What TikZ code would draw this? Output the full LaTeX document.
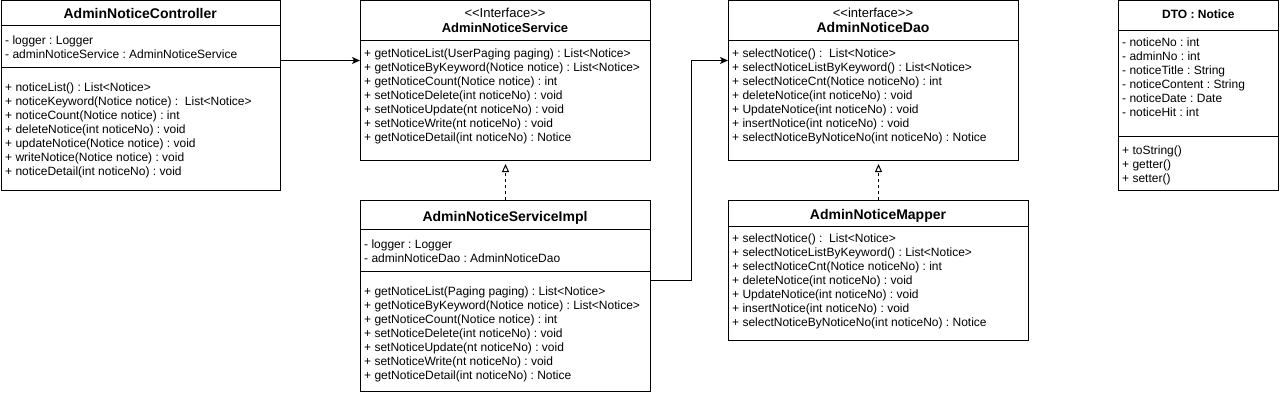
\documentclass[tikz,border=0pt]{standalone}
\usepackage{fontspec}
\setmainfont{Liberation Sans}
\usetikzlibrary{arrows.meta,calc}
\frenchspacing
\newcommand{\lguil}{<\kern0pt<}
\newcommand{\rguil}{>\kern0pt>}
\tikzset{
  cls/.style={draw, line width=1pt, fill=white, inner sep=0pt, anchor=north west},
  mem/.style={anchor=base west, inner sep=0pt, font=\fontsize{12}{14}\selectfont},
  ttl/.style={anchor=base, inner sep=0pt, font=\fontsize{14}{16}\selectfont\bfseries},
  ttlmd/.style={anchor=base, inner sep=0pt, font=\fontsize{13}{15}\selectfont\bfseries},
  stereo/.style={anchor=base, inner sep=0pt, font=\fontsize{13}{15}\selectfont},
  dtottl/.style={anchor=base, inner sep=0pt, font=\fontsize{12}{14}\selectfont\bfseries},
  sepline/.style={line width=1pt},
  assoc/.style={line width=1pt, -{Stealth[length=8pt,width=7pt,inset=2pt]}},
  realize/.style={line width=1pt, dash pattern=on 3pt off 3pt, -{Triangle[open,length=8pt,width=7pt]}},
}
\begin{document}
\begin{tikzpicture}[x=1pt,y=-1pt]
\fill[white] (0,0) rectangle (1281,404);
\useasboundingbox (0,0) rectangle (1281,404);

% ---------- AdminNoticeController
\node[cls, minimum width=279.5pt, minimum height=189.5pt] (ctrl) at (0.5,0.5) {};
\draw[sepline] (ctrl.west |- 0,26) -- (ctrl.east |- 0,26);
\draw[sepline] (ctrl.west |- 0,67) -- (ctrl.east |- 0,67);
\node[ttl] (ctrl-t) at (140.25,18.5) {AdminNoticeController};
\foreach \m [count=\i from 0] in {{- logger : Logger},{- adminNoticeService : AdminNoticeService}}
  \node[mem] (ctrl-a\i) at (5,44.3+14*\i) {\m};
\foreach \m [count=\i from 0] in {{+ noticeList() : List<Notice>},{+ noticeKeyword(Notice notice) :\ \ List<Notice>},{+ noticeCount(Notice notice) : int},{+ deleteNotice(int noticeNo) : void},{+ updateNotice(Notice notice) : void},{+ writeNotice(Notice notice) : void},{+ noticeDetail(int noticeNo) : void}}
  \node[mem] (ctrl-m\i) at (5,91.7+14*\i) {\m};

% ---------- AdminNoticeService
\node[cls, minimum width=290pt, minimum height=159.5pt] (svc) at (360,0.5) {};
\draw[sepline] (svc.west |- 0,41) -- (svc.east |- 0,41);
\node[stereo] (svc-s) at (505,17.5) {\lguil Interface\rguil};
\node[ttlmd] (svc-t) at (505,33) {AdminNoticeService};
\foreach \m [count=\i from 0] in {{+ getNoticeList(UserPaging paging) : List<Notice>},{+ getNoticeByKeyword(Notice notice) : List<Notice>},{+ getNoticeCount(Notice notice) : int},{+ setNoticeDelete(int noticeNo) : void},{+ setNoticeUpdate(nt noticeNo) : void},{+ setNoticeWrite(nt noticeNo) : void},{+ getNoticeDetail(int noticeNo) : Notice}}
  \node[mem] (svc-m\i) at (364,57+14*\i) {\m};

% ---------- AdminNoticeServiceImpl
\node[cls, minimum width=290pt, minimum height=191pt] (impl) at (360,200) {};
\draw[sepline] (impl.west |- 0,229) -- (impl.east |- 0,229);
\draw[sepline] (impl.west |- 0,271) -- (impl.east |- 0,271);
\node[ttl] (impl-t) at (505,221.7) {AdminNoticeServiceImpl};
\foreach \m [count=\i from 0] in {{- logger : Logger},{- adminNoticeDao : AdminNoticeDao}}
  \node[mem] (impl-a\i) at (364,248.3+14*\i) {\m};
\foreach \m [count=\i from 0] in {{+ getNoticeList(Paging paging) : List<Notice>},{+ getNoticeByKeyword(Notice notice) : List<Notice>},{+ getNoticeCount(Notice notice) : int},{+ setNoticeDelete(int noticeNo) : void},{+ setNoticeUpdate(nt noticeNo) : void},{+ setNoticeWrite(nt noticeNo) : void},{+ getNoticeDetail(int noticeNo) : Notice}}
  \node[mem] (impl-m\i) at (364,295.7+14*\i) {\m};

% ---------- AdminNoticeDao
\node[cls, minimum width=290pt, minimum height=159.5pt] (dao) at (728,0.5) {};
\draw[sepline] (dao.west |- 0,41) -- (dao.east |- 0,41);
\node[stereo] (dao-s) at (873,17.5) {\lguil interface\rguil};
\node[ttl] (dao-t) at (873,33) {AdminNoticeDao};
\foreach \m [count=\i from 0] in {{+ selectNotice() :\ \ List<Notice>},{+ selectNoticeListByKeyword() : List<Notice>},{+ selectNoticeCnt(Notice noticeNo) : int},{+ deleteNotice(int noticeNo) : void},{+ UpdateNotice(int noticeNo) : void},{+ insertNotice(int noticeNo) : void},{+ selectNoticeByNoticeNo(int noticeNo) : Notice}}
  \node[mem] (dao-m\i) at (732,57+14*\i) {\m};

% ---------- AdminNoticeMapper
\node[cls, minimum width=300pt, minimum height=140pt] (mapper) at (728,200) {};
\draw[sepline] (mapper.west |- 0,226) -- (mapper.east |- 0,226);
\node[ttl] (mapper-t) at (878,219) {AdminNoticeMapper};
\foreach \m [count=\i from 0] in {{+ selectNotice() :\ \ List<Notice>},{+ selectNoticeListByKeyword() : List<Notice>},{+ selectNoticeCnt(Notice noticeNo) : int},{+ deleteNotice(int noticeNo) : void},{+ UpdateNotice(int noticeNo) : void},{+ insertNotice(int noticeNo) : void},{+ selectNoticeByNoticeNo(int noticeNo) : Notice}}
  \node[mem] (mapper-m\i) at (732,242.5+14*\i) {\m};

% ---------- DTO : Notice
\node[cls, minimum width=160pt, minimum height=189pt] (dto) at (1118.3,0.5) {};
\draw[sepline] (dto.west |- 0,30.7) -- (dto.east |- 0,30.7);
\draw[sepline] (dto.west |- 0,136.7) -- (dto.east |- 0,136.7);
\node[dtottl] (dto-t) at (1198.3,18.3) {DTO : Notice};
\foreach \m [count=\i from 0] in {{- noticeNo : int},{- adminNo : int},{- noticeTitle : String},{- noticeContent : String},{- noticeDate : Date},{- noticeHit : int}}
  \node[mem] (dto-a\i) at (1122,46.7+14*\i) {\m};
\foreach \m [count=\i from 0] in {{+ toString()},{+ getter()},{+ setter()}}
  \node[mem] (dto-m\i) at (1122,154+14*\i) {\m};

% ---------- connectors
\draw[assoc] ([yshift=35.25pt]ctrl.east) -- ([yshift=20.25pt]svc.west);
\draw[assoc] ([yshift=15.5pt]impl.east) -- ++(40,0) |- ([yshift=20.25pt]dao.west);
\draw[realize] (impl.north) -- ($(svc.south)+(0,3)$);
\draw[realize] (mapper.north) -- ($(mapper.north |- dao.south)+(0,3)$);
\end{tikzpicture}
\end{document}
